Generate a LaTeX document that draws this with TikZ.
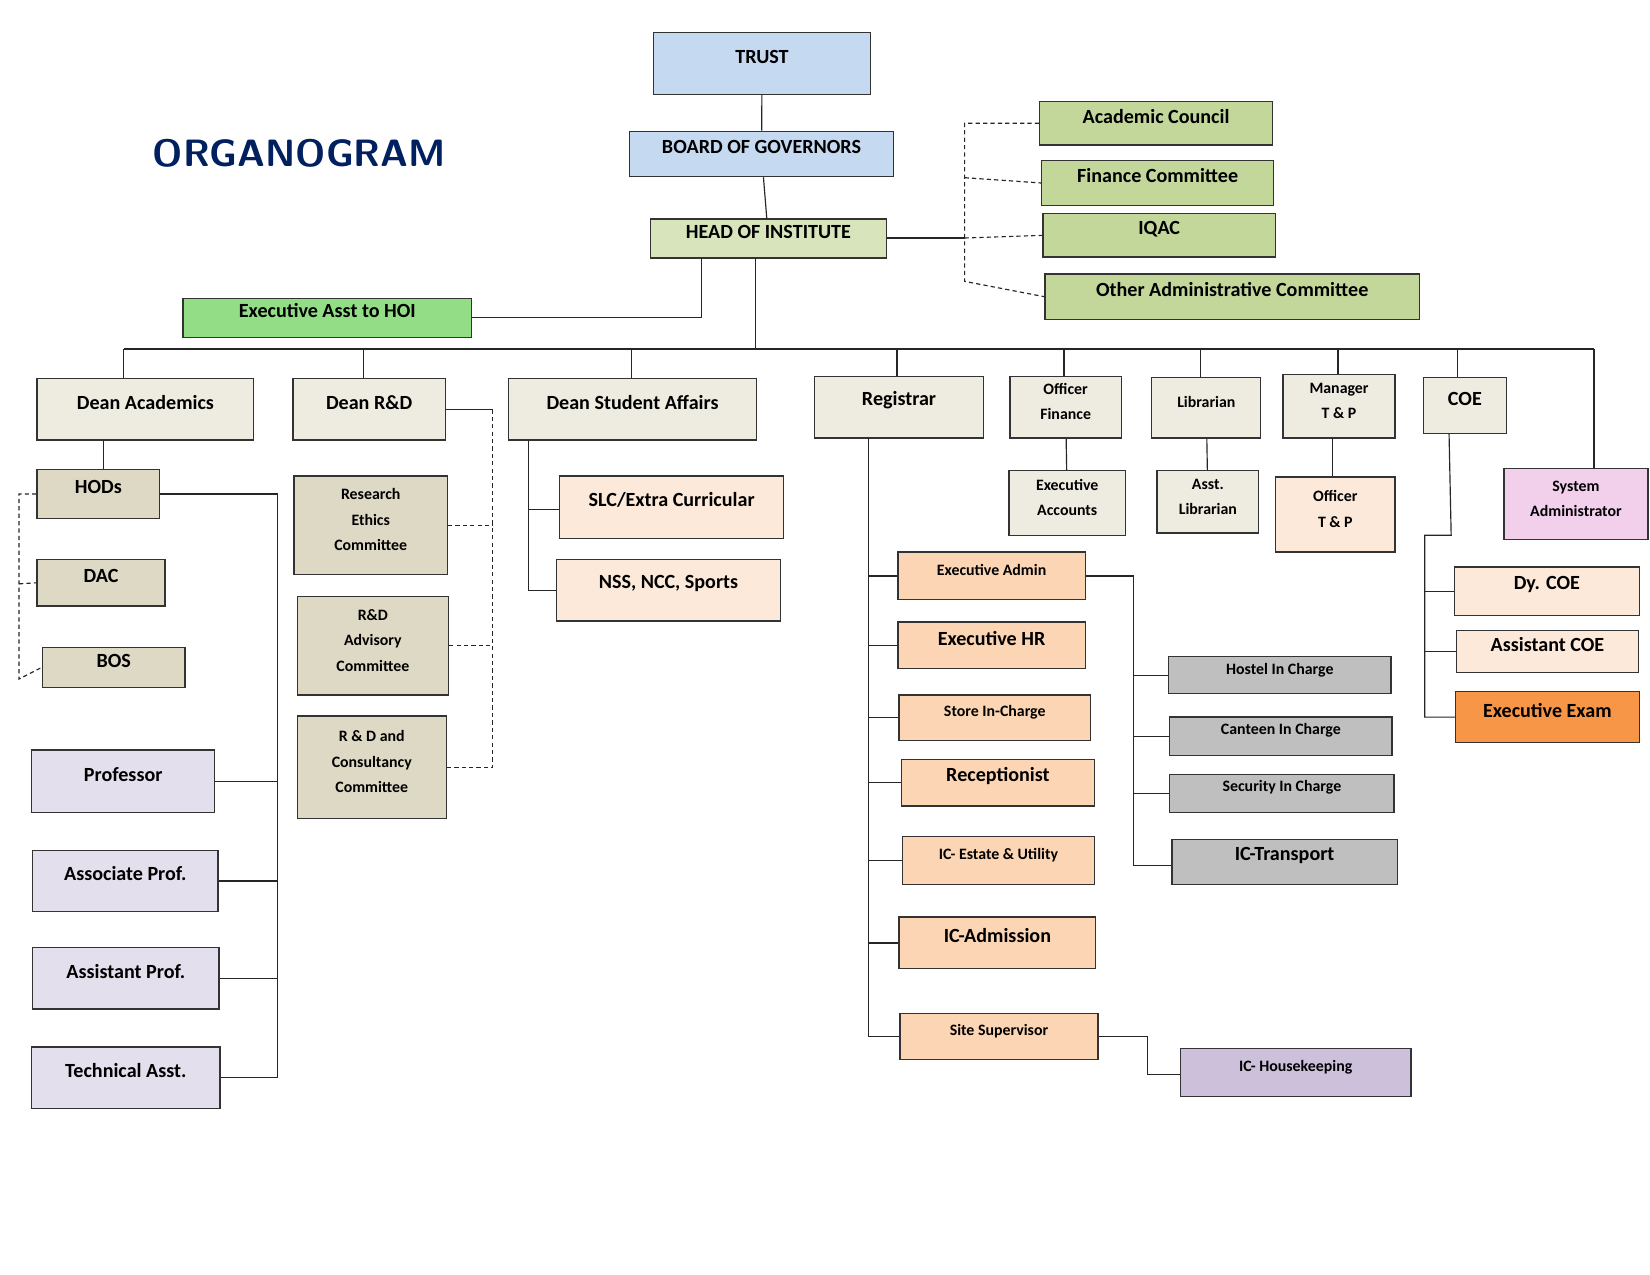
\documentclass[tikz,border=0pt]{standalone}
\usepackage{fontspec}
\setmainfont{Carlito}
\usetikzlibrary{fit}
\definecolor{trust}{RGB}{197,217,241}
\definecolor{hoi}{RGB}{216,228,188}
\definecolor{council}{RGB}{196,215,155}
\definecolor{asst}{RGB}{146,221,134}
\definecolor{dean}{RGB}{238,236,225}
\definecolor{tan}{RGB}{221,217,196}
\definecolor{faculty}{RGB}{228,223,236}
\definecolor{peachlight}{RGB}{253,233,217}
\definecolor{peach}{RGB}{252,213,180}
\definecolor{service}{RGB}{191,191,191}
\definecolor{exam}{RGB}{247,150,70}
\definecolor{sysadmin}{RGB}{242,208,236}
\definecolor{house}{RGB}{204,192,218}
\definecolor{navy}{RGB}{0,32,96}
\tikzset{box/.style={draw=black!80,line width=1.2pt,inner sep=0pt,align=center,
    font=\fontsize{19}{28}\selectfont\bfseries},
  small/.style={font=\fontsize{15}{24}\selectfont\bfseries},
  link/.style={line width=1.1pt,black!85},
  dlink/.style={link,dashed,dash pattern=on 4pt off 3pt}}
\newcommand{\orgbox}[7]{\node[box,fill=#1,fit={(#3,#4)(#5,#6)}] (#2) {#7};}
\begin{document}
\begin{tikzpicture}[x=1pt,y=-1pt]
  \useasboundingbox[fill=white] (0,0) rectangle (1560,1205);
  \node[text=navy,font=\fontsize{36}{40}\selectfont\bfseries\sffamily] (title) at (283,145) {ORGANOGRAM};

  %% top
  \orgbox{trust}{trust}{618}{31}{823}{89}{TRUST}
  \orgbox{trust}{bog}{595}{124}{845}{167}{BOARD OF GOVERNORS}
  \orgbox{hoi}{hoi}{615}{207}{838}{244}{HEAD OF INSTITUTE}
  \orgbox{asst}{ea}{173}{282}{446}{319}{Executive Asst to HOI}
  \orgbox{council}{ac}{983}{96}{1203}{137}{Academic Council}
  \orgbox{council}{fc}{985}{152}{1204}{194}{Finance Committee}
  \orgbox{council}{iqac}{986}{202}{1206}{243}{IQAC}
  \orgbox{council}{oac}{988}{259}{1342}{302}{Other Administrative Committee}

  %% second level
  \orgbox{dean}{da}{35}{358}{240}{416}{Dean Academics}
  \orgbox{dean}{drd}{277}{358}{421}{416}{Dean R\&D}
  \orgbox{dean}{dsa}{481}{358}{715}{416}{Dean Student Affairs}
  \orgbox{dean}{reg}{770}{356}{930}{414}{Registrar}
  \orgbox{dean,small}{ofin}{955}{356}{1060}{414}{Officer\\Finance}
  \orgbox{dean,small}{lib}{1089}{357}{1192}{414}{Librarian}
  \orgbox{dean,small}{mtp}{1213}{354}{1319}{414}{Manager\\T \& P}
  \orgbox{dean}{coe}{1346}{357}{1424}{410}{COE}
  \orgbox{sysadmin,small}{sys}{1422}{443}{1558}{510}{System\\Administrator}

  %% academics
  \orgbox{tan}{hods}{35}{444}{151}{490}{HODs}
  \orgbox{tan}{dac}{35}{529}{156}{573}{DAC}
  \orgbox{tan}{bos}{40}{612}{175}{650}{BOS}
  \orgbox{faculty}{prof}{30}{709}{203}{768}{Professor}
  \orgbox{faculty}{aso}{31}{804}{206}{862}{Associate Prof.}
  \orgbox{faculty}{asp}{31}{896}{207}{954}{Assistant Prof.}
  \orgbox{faculty}{tech}{30}{990}{208}{1048}{Technical Asst.}

  %% R&D and student affairs
  \orgbox{tan,small}{rec}{278}{450}{423}{543}{Research\\Ethics\\Committee}
  \orgbox{tan,small}{rda}{281}{564}{424}{657}{R\&D\\Advisory\\Committee}
  \orgbox{tan,small}{rdc}{281}{677}{422}{774}{R \& D and\\Consultancy\\Committee}
  \orgbox{peachlight}{slc}{529}{450}{741}{509}{SLC/Extra Curricular}
  \orgbox{peachlight}{nss}{526}{529}{738}{587}{NSS, NCC, Sports}

  %% registrar
  \orgbox{peach,small}{exa}{849}{522}{1026}{567}{Executive Admin}
  \orgbox{peach}{exhr}{849}{588}{1026}{632}{Executive HR}
  \orgbox{peach,small}{store}{850}{657}{1031}{700}{Store In-Charge}
  \orgbox{peach}{recp}{852}{718}{1035}{762}{Receptionist}
  \orgbox{peach,small}{est}{853}{791}{1035}{836}{IC- Estate \& Utility}
  \orgbox{peach}{adm}{850}{867}{1036}{916}{IC-Admission}
  \orgbox{peach,small}{site}{851}{958}{1038}{1002}{Site Supervisor}
  \orgbox{service,small}{hostel}{1105}{621}{1315}{656}{Hostel In Charge}
  \orgbox{service,small}{cant}{1106}{678}{1316}{714}{Canteen In Charge}
  \orgbox{service,small}{sec}{1106}{732}{1318}{768}{Security In Charge}
  \orgbox{service}{trans}{1108}{794}{1321}{836}{IC-Transport}
  \orgbox{house,small}{hk}{1116}{991}{1334}{1037}{IC- Housekeeping}

  %% finance, library, T&P, COE
  \orgbox{dean,small}{exacc}{954}{445}{1064}{506}{Executive\\Accounts}
  \orgbox{dean,small}{alib}{1094}{445}{1190}{504}{Asst.\\Librarian}
  \orgbox{peachlight,small}{otp}{1206}{451}{1319}{522}{Officer\\T \& P}
  \orgbox{peachlight}{dcoe}{1375}{536}{1550}{582}{Dy. COE}
  \orgbox{peachlight}{acoe}{1377}{596}{1549}{636}{Assistant COE}
  \orgbox{exam}{eexam}{1376}{654}{1550}{702}{Executive Exam}

  %% connectors: top
  \draw[link] (trust) -- (bog);
  \draw[link] (bog) -- (hoi);
  \coordinate (cb) at (912,225);
  \draw[link] (hoi.east |- cb) -- (cb);
  \draw[dlink] (ac.west) -| (912,266) -- (oac.west);
  \draw[dlink] (912,168) -- (fc.west);
  \draw[dlink] (cb) -- (iqac.west);
  \draw[link] (663,244) |- (ea.east);

  %% bus
  \coordinate (bus) at (714,330);
  \draw[link] (714,244) -- (bus);
  \draw[link] (117,330) -- (1507,330);
  \foreach \n/\x in {da/117,drd/344,dsa/597,reg/848,ofin/1006,lib/1135,mtp/1265,coe/1378}
    \draw[link] (\x,330) -- (\x,0 |- \n.north);
  \draw[link] (1507,330) -- (1507,0 |- sys.north);

  %% academics
  \draw[link] (98,416) -- (98,0 |- hods.north);
  \draw[dlink] (hods.west) -| (18,642) -- (bos.west);
  \draw[dlink] (18,552) -- (dac.west);
  \draw[link] (hods.east) -| (262,1019) -- (tech.east);
  \foreach \n in {prof,aso,asp}
    \draw[link] (\n.east) -- (262,0 |- \n.east);

  %% R&D
  \draw[link] (drd.east |- 0,387) -- (466,387);
  \draw[dlink] (466,387) |- (rdc.east);
  \foreach \n in {rec,rda}
    \draw[dlink] (\n.east) -- (466,0 |- \n.east);

  %% student affairs
  \draw[link] (500,416) |- (nss.west);
  \draw[link] (500,482) -- (slc.west |- 0,482);

  %% registrar
  \draw[link] (821,414) |- (site.west);
  \foreach \n in {exa,exhr,store,recp,est,adm}
    \draw[link] (821,0 |- \n.west) -- (\n.west);
  \draw[link] (exa.east) -| (1072,818) -- (trans.west |- 0,818);
  \foreach \n in {hostel,cant,sec}
    \draw[link] (1072,0 |- \n.west) -- (\n.west);
  \draw[link] (site.east) -| (1085,1016) -- (hk.west |- 0,1016);

  %% finance, library, T&P, COE
  \draw[link] (ofin) -- (exacc);
  \draw[link] (lib) -- (alib);
  \draw[link] (1260,414) -- (1260,0 |- otp.north);
  \draw[link] (1370,410) -- (1372,506) -- (1347,506) |- (eexam.west);
  \foreach \n in {dcoe,acoe}
    \draw[link] (1347,0 |- \n.west) -- (\n.west);
\end{tikzpicture}
\end{document}
